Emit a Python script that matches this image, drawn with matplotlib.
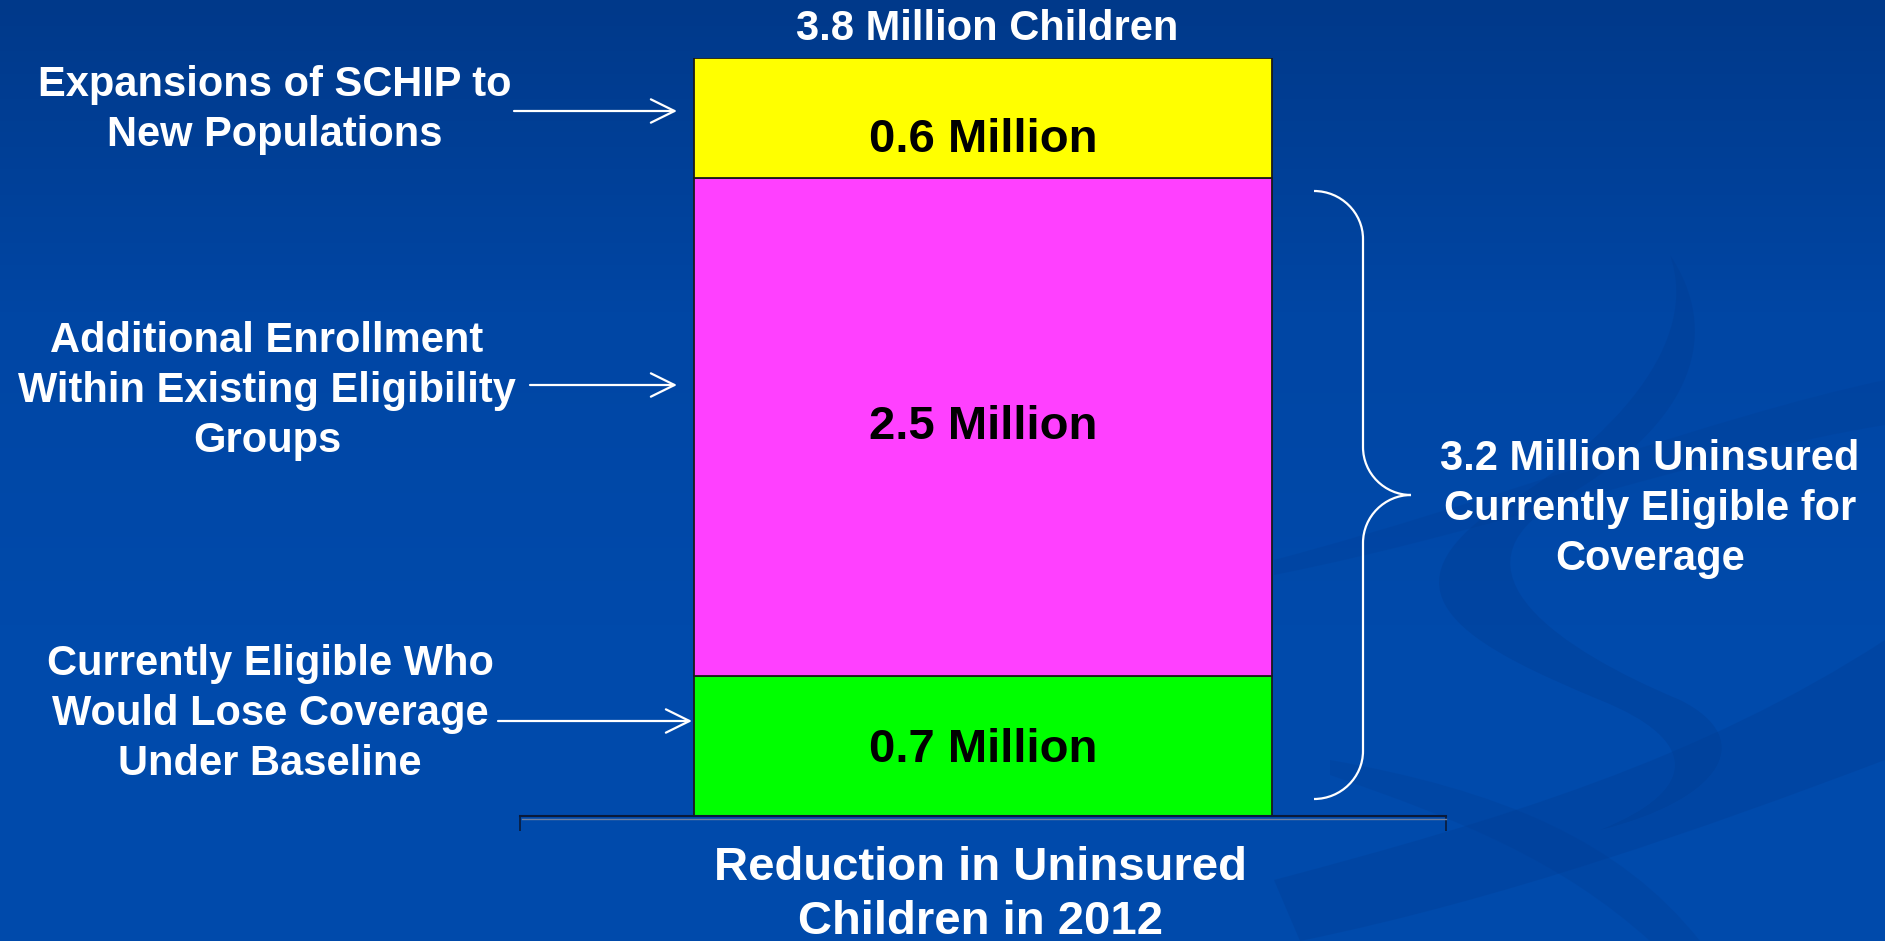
import numpy as np
import matplotlib
matplotlib.use('Agg')
import matplotlib.pyplot as plt
from matplotlib.path import Path
from matplotlib.patches import PathPatch
from matplotlib.colors import LinearSegmentedColormap

# data (millions of children)
segments = ['Currently Eligible Who\nWould Lose Coverage\nUnder Baseline',
            'Additional Enrollment\nWithin Existing Eligibility\nGroups',
            'Expansions of SCHIP to\nNew Populations']
values = [0.7, 2.5, 0.6]
seg_labels = ['0.7 Million', '2.5 Million', '0.6 Million']
colors = ['#00ff00', '#ff40ff', '#ffff00']
total_label = '3.8 Million Children'
brace_label = '3.2 Million Uninsured\nCurrently Eligible for\nCoverage'
category = 'Reduction in Uninsured\nChildren in 2012'

W, H = 1885, 941
plt.rcParams['font.family'] = ['Liberation Sans', 'DejaVu Sans']
plt.rcParams['font.weight'] = 'bold'

fig = plt.figure(figsize=(W / 100, H / 100), dpi=100)

# background with gradient + swirls
bg = fig.add_axes([0, 0, 1, 1], zorder=0)
bg.set_xlim(0, W)
bg.set_ylim(H, 0)
bg.axis('off')
cmap = LinearSegmentedColormap.from_list('bg', ['#00398a', '#0046a4', '#004aab', '#004aab'])
grad = np.linspace(0, 1, 256).reshape(-1, 1)
bg.imshow(grad, cmap=cmap, extent=[0, W, H, 0], aspect='auto')

def band(ax, pts, color='#003c92', alpha=0.3):
    codes = [Path.MOVETO] + [Path.CURVE4] * (len(pts) - 2) + [Path.CLOSEPOLY]
    ax.add_patch(PathPatch(Path(pts, codes), facecolor=color, edgecolor='none', alpha=alpha))

# long streak across the right side
band(bg, [(1274, 560), (1500, 500), (1700, 420), (1885, 380),
          (1885, 395), (1885, 405), (1885, 425),
          (1700, 455), (1500, 530), (1274, 575), (1274, 560)], alpha=0.25)
# big swirl
band(bg, [(1670, 255), (1720, 330), (1700, 420), (1560, 500),
          (1440, 570), (1560, 650), (1680, 700),
          (1760, 740), (1720, 800), (1600, 830),
          (1700, 790), (1700, 740), (1600, 700),
          (1480, 650), (1380, 600), (1480, 520),
          (1620, 440), (1700, 340), (1670, 255), (1670, 255)], alpha=0.35)
# lower streaks
band(bg, [(1274, 880), (1500, 820), (1700, 760), (1885, 640),
          (1885, 700), (1885, 720), (1885, 760),
          (1700, 830), (1500, 900), (1300, 941), (1274, 880)], alpha=0.3)
band(bg, [(1330, 760), (1500, 790), (1620, 840), (1700, 941),
          (1690, 941), (1680, 941), (1650, 941),
          (1560, 860), (1460, 820), (1330, 775), (1330, 760)], alpha=0.25)

# stacked bar in data units
ax = fig.add_axes([520 / W, (H - 816) / H, (1446 - 520) / W, (816 - 58) / H], zorder=1)
ax.patch.set_alpha(0)
bottoms = np.concatenate([[0], np.cumsum(values)[:-1]])
bars = ax.bar([0] * len(values), values, bottom=bottoms, width=0.624,
              color=colors, edgecolor='#1a1a1a', linewidth=1.3, zorder=2)
ax.set_xlim(-0.5, 0.5)
ax.set_ylim(0, sum(values))
for s in ['top', 'left', 'right']:
    ax.spines[s].set_visible(False)
ax.spines['bottom'].set_color('#0a1a3a')
ax.spines['bottom'].set_linewidth(1.5)
ax.set_yticks([])
ax.set_xticks([-0.5, 0.5])
ax.tick_params(axis='x', length=11, width=1.2, color='#0a1a3a', labelbottom=False)

offsets = [-0.02, 0, -0.11]
for b, v, lab, off in zip(bottoms, values, seg_labels, offsets):
    ax.text(0, b + v / 2 + off, lab, ha='center', va='center', fontsize=34,
            fontweight='bold', color='black', zorder=3)

# annotations in pixel coordinates
ov = fig.add_axes([0, 0, 1, 1], zorder=2)
ov.set_xlim(0, W)
ov.set_ylim(H, 0)
ov.axis('off')

ov.plot([522, 1446], [819, 819], color='#7080a0', linewidth=1.0)

ov.text(987, 29, total_label, ha='center', va='center', fontsize=30, color='white')

side_pos = [(270, 714), (267, 391), (275, 110)]
arrow_pos = [(498, 692, 721), (530, 677, 385), (514, 677, 111)]
for lab, (tx, ty), (x0, x1, y) in zip(segments, side_pos, arrow_pos):
    ov.text(tx, ty, lab, ha='center', va='center', fontsize=30, color='white',
            linespacing=1.31, multialignment='center')
    ov.annotate('', xy=(x1, y), xytext=(x0, y),
                arrowprops=dict(arrowstyle='->,head_length=0.85,head_width=0.42',
                                color='white', lw=1.6, shrinkA=0, shrinkB=0,
                                mutation_scale=20))

# curly brace
x0, xs, xt = 1314, 1363, 1411
ytop, ymid, ybot, r = 191, 495, 799, 48
k = 0.55
verts = [(x0, ytop), (x0 + k * (xs - x0), ytop), (xs, ytop + r - k * r), (xs, ytop + r),
         (xs, ymid - r),
         (xs, ymid - r + k * r), (xt - k * (xt - xs), ymid), (xt, ymid),
         (xt - k * (xt - xs), ymid), (xs, ymid + r - k * r), (xs, ymid + r),
         (xs, ybot - r),
         (xs, ybot - r + k * r), (x0 + k * (xs - x0), ybot), (x0, ybot)]
codes = [Path.MOVETO, Path.CURVE4, Path.CURVE4, Path.CURVE4, Path.LINETO,
         Path.CURVE4, Path.CURVE4, Path.CURVE4, Path.CURVE4, Path.CURVE4, Path.CURVE4,
         Path.LINETO, Path.CURVE4, Path.CURVE4, Path.CURVE4]
ov.add_patch(PathPatch(Path(verts, codes), facecolor='none', edgecolor='white', linewidth=1.6))

ov.text(1650, 509, brace_label, ha='center', va='center', fontsize=30, color='white',
        linespacing=1.31, multialignment='center')
ov.text(980, 895, category, ha='center', va='center', fontsize=34, color='white',
        linespacing=1.29, multialignment='center')

fig.savefig('out.png', dpi=100)
